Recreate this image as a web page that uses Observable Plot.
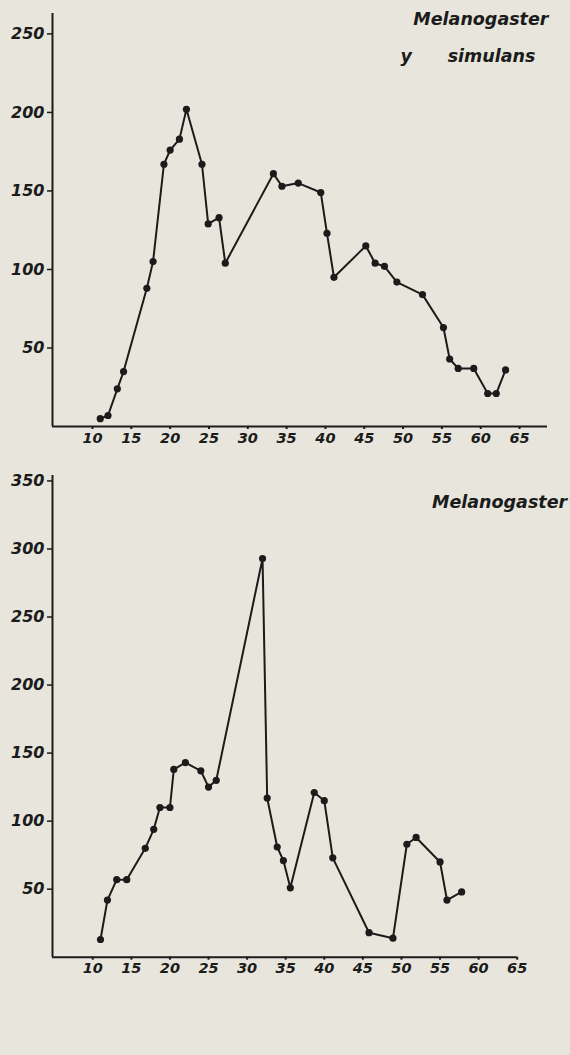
<!DOCTYPE html>
<html>
<head>
<meta charset="utf-8">
<script src="https://cdn.jsdelivr.net/npm/d3@7"></script>
<script src="https://cdn.jsdelivr.net/npm/@observablehq/plot@0.6"></script>
<style>
  html, body { margin: 0; padding: 0; background: #e8e6dc; }
  #wrap { width: 570px; height: 1055px; overflow: hidden; }
  svg { display: block; }
</style>
</head>
<body>
<div id="wrap"></div>
<script>
// Top panel: Melanogaster y simulans
const topDays = [11, 12, 13.2, 14, 17, 17.8, 19.2, 20, 21.2, 22.1, 24.1, 24.9, 26.3, 27.1, 33.3, 34.4, 36.5, 39.4, 40.2, 41.1, 45.2, 46.4, 47.6, 49.2, 52.5, 55.2, 56, 57.1, 59.1, 60.9, 62, 63.2];
const topCounts = [5, 7, 24, 35, 88, 105, 167, 176, 183, 202, 167, 129, 133, 104, 161, 153, 155, 149, 123, 95, 115, 104, 102, 92, 84, 63, 43, 37, 37, 21, 21, 36];
const topYTicks = [50, 100, 150, 200, 250];

// Bottom panel: Melanogaster
const botDays = [11, 11.9, 13.1, 14.4, 16.8, 17.9, 18.7, 20, 20.5, 22, 24, 25, 26, 32, 32.6, 33.9, 34.7, 35.6, 38.7, 40, 41.1, 45.8, 48.9, 50.7, 51.9, 55, 55.9, 57.8];
const botCounts = [13, 42, 57, 57, 80, 94, 110, 110, 138, 143, 137, 125, 130, 293, 117, 81, 71, 51, 121, 115, 73, 18, 14, 83, 88, 70, 42, 48];
const botYTicks = [50, 100, 150, 200, 250, 300, 350];

const xTicks = [10, 15, 20, 25, 30, 35, 40, 45, 50, 55, 60, 65];

const ink = "#1b1b1b";
const font = "'DejaVu Sans', sans-serif";

function panel({days, counts, yTicks, height, xDomain, yDomain, mTop, mBottom, mRight, labels}) {
  const data = days.map((d, i) => ({day: d, n: counts[i]}));
  return Plot.plot({
    width: 570,
    height,
    marginLeft: 52,
    marginRight: mRight,
    marginTop: mTop,
    marginBottom: mBottom,
    style: {background: "transparent", color: ink, fontFamily: font, fontStyle: "italic", fontWeight: "bold", overflow: "visible"},
    x: {domain: xDomain},
    y: {domain: yDomain},
    marks: [
      Plot.axisX({ticks: xTicks, tickFormat: d => String(d), tickSize: 3, tickPadding: 3, fontSize: 14.5, label: null, strokeWidth: 2}),
      Plot.axisY({ticks: yTicks, tickFormat: d => String(d), tickSize: 5, tickPadding: 3, fontSize: 16, label: null, strokeWidth: 1.5}),
      Plot.ruleY([yDomain[0]], {stroke: ink, strokeWidth: 2}),
      Plot.ruleX([xDomain[0]], {stroke: ink, strokeWidth: 2}),
      Plot.line(data, {x: "day", y: "n", stroke: ink, strokeWidth: 2}),
      Plot.dot(data, {x: "day", y: "n", fill: ink, r: 3.6}),
      ...labels.map(l => Plot.text([l.text], {frameAnchor: "top-right", text: d => d, textAnchor: l.anchor, dx: l.dx, dy: l.dy, fontSize: 17.5, fill: ink, lineAnchor: "bottom"}))
    ]
  });
}

const topPanel = panel({
  days: topDays, counts: topCounts, yTicks: topYTicks,
  height: 455, xDomain: [4.85, 68.6], yDomain: [0, 263],
  mTop: 13, mBottom: 29, mRight: 23,
  labels: [
    {text: "Melanogaster", anchor: "end", dx: 1, dy: 11},
    {text: "y", anchor: "start", dx: -147, dy: 48},
    {text: "simulans", anchor: "end", dx: -12, dy: 48}
  ]
});

const botPanel = panel({
  days: botDays, counts: botCounts, yTicks: botYTicks,
  height: 600, xDomain: [4.78, 65], yDomain: [0, 354],
  mTop: 20, mBottom: 98.3, mRight: 53.3,
  labels: [
    {text: "Melanogaster", anchor: "end", dx: 50, dy: 32}
  ]
});

const wrap = document.getElementById("wrap");
wrap.appendChild(topPanel);
wrap.appendChild(botPanel);
</script>
</body>
</html>
